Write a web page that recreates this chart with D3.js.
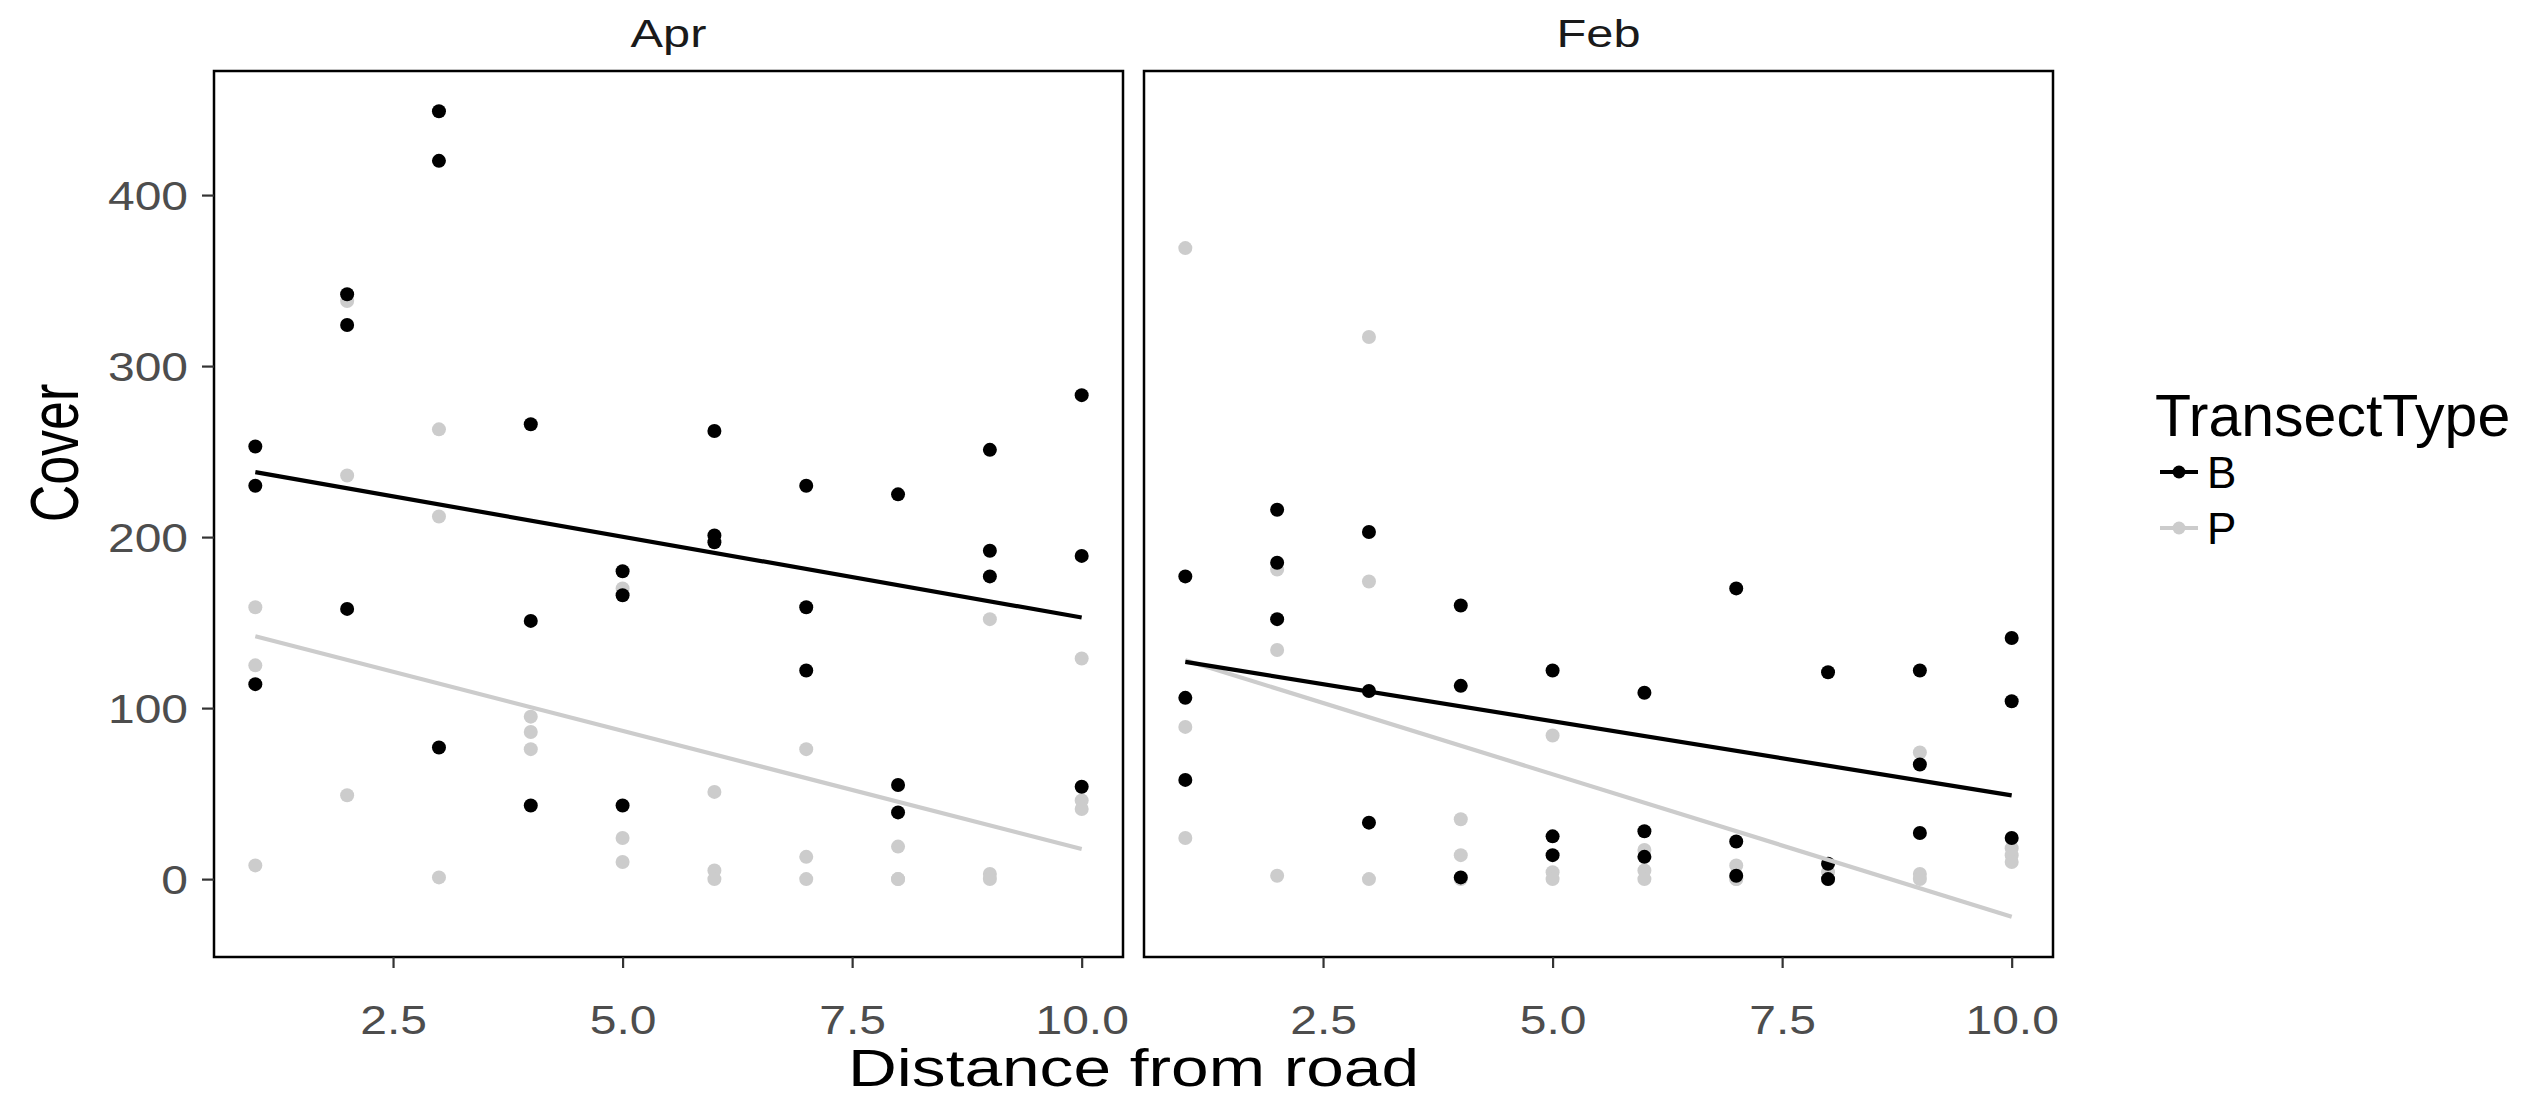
<!DOCTYPE html>
<html>
<head>
<meta charset="utf-8">
<script src="https://cdn.jsdelivr.net/npm/d3@7"></script>
<style>
  body { margin: 0; background: #fff; }
  svg { display: block; }
</style>
</head>
<body>
<div id="chart"></div>
<script>
// panels and groups
const months = ["Apr", "Feb"];
const types = ["B", "P"];
const distances = [1, 2, 3, 4, 5, 6, 7, 8, 9, 10];

// Cover values, three per distance (rows follow distances)
const aprB = [[253, 230, 114], [342, 324, 158], [449, 420, 77], [266, 151, 43], [180, 166, 43],
              [262, 201, 197], [230, 159, 122], [225, 55, 39], [251, 192, 177], [283, 189, 54]];
const aprP = [[159, 125, 8], [338, 236, 49], [263, 212, 1], [95, 86, 76], [170, 24, 10],
              [51, 5, 0], [76, 13, 0], [19, 0, 0], [152, 3, 0], [129, 46, 41]];
const febB = [[177, 106, 58], [216, 185, 152], [203, 110, 33], [160, 113, 1], [122, 25, 14],
              [109, 28, 13], [170, 22, 2], [121, 9, 0], [122, 67, 27], [141, 104, 24]];
const febP = [[369, 89, 24], [181, 134, 2], [317, 174, 0], [35, 14, 0], [84, 4, 0],
              [17, 5, 0], [8, 0, 0], [4, 0, 0], [74, 3, 0], [18, 14, 10]];

// linear fit ends (at distance 1 and 10)
const fitAprB = [238, 153];
const fitAprP = [142, 17.6];
const fitFebB = [127, 49];
const fitFebP = [128, -22];

const xTicks = [2.5, 5, 7.5, 10];
const yTicks = [0, 100, 200, 300, 400];

const colors = { B: "#000000", P: "#cccccc" };
const font = "'Liberation Sans', Arial, sans-serif";

const width = 2531;
const height = 1097;
const margin = { left: 214, top: 71 };
const panelW = 909;
const panelH = 886;
const panelGap = 21;

const panelData = {
    Apr: { B: aprB, P: aprP, fitB: fitAprB, fitP: fitAprP },
    Feb: { B: febB, P: febP, fitB: fitFebB, fitP: fitFebP },
};

const svg = d3.select("#chart")
    .append("svg")
    .attr("width", width)
    .attr("height", height);

// shared y scale, 5% expansion like ggplot
const allY = [aprB, aprP, febB, febP].flat(2)
    .concat(fitAprB, fitAprP, fitFebB, fitFebP);
const yLo = d3.min(allY), yHi = d3.max(allY);
const yPad = (yHi - yLo) * 0.05;
const y = d3.scaleLinear()
    .domain([yLo - yPad, yHi + yPad])
    .range([margin.top + panelH, margin.top]);

const xPad = (d3.max(distances) - d3.min(distances)) * 0.05;

months.forEach((m, i) => {
    const x0 = margin.left + i * (panelW + panelGap);
    const x = d3.scaleLinear()
        .domain([d3.min(distances) - xPad, d3.max(distances) + xPad])
        .range([x0, x0 + panelW]);
    const d = panelData[m];

    const g = svg.append("g");

    // points (P under B)
    ["P", "B"].forEach(t => {
        const pts = [];
        distances.forEach((dist, k) => d[t][k].forEach(v => pts.push({ x: dist, y: v })));
        g.selectAll(null)
            .data(pts)
            .enter().append("circle")
            .attr("cx", p => x(p.x))
            .attr("cy", p => y(p.y))
            .attr("r", 7)
            .attr("fill", colors[t]);
    });

    // fit lines
    const line = d3.line().x(p => x(p[0])).y(p => y(p[1]));
    ["P", "B"].forEach(t => {
        const f = d["fit" + t];
        g.append("path")
            .datum([[d3.min(distances), f[0]], [d3.max(distances), f[1]]])
            .attr("fill", "none")
            .attr("stroke", colors[t])
            .attr("stroke-width", 4.2)
            .attr("d", line);
    });

    // panel border
    svg.append("rect")
        .attr("x", x0)
        .attr("y", margin.top)
        .attr("width", panelW)
        .attr("height", panelH)
        .attr("fill", "none")
        .attr("stroke", "#000")
        .attr("stroke-width", 2.5);

    // strip label
    svg.append("text")
        .attr("transform", `translate(${x0 + panelW / 2}, 47) scale(1.25, 1)`)
        .attr("text-anchor", "middle")
        .attr("font-family", font)
        .attr("font-size", 39)
        .attr("fill", "#1a1a1a")
        .text(m);

    // x axis
    const xAxis = svg.append("g")
        .attr("transform", `translate(0, ${margin.top + panelH})`)
        .call(d3.axisBottom(x).tickValues(xTicks).tickSize(11).tickFormat(d3.format(".1f")));
    xAxis.select(".domain").remove();
    xAxis.selectAll("line").attr("stroke", "#333").attr("stroke-width", 2.2);
    xAxis.selectAll("text")
        .attr("y", 63)
        .attr("dy", "0.35em")
        .attr("transform", "scale(1.2, 1)")
        .attr("font-family", font)
        .attr("font-size", 40)
        .attr("fill", "#4d4d4d");

    // y axis only on the first panel
    if (i === 0) {
        const yAxis = svg.append("g")
            .attr("transform", `translate(${x0}, 0)`)
            .call(d3.axisLeft(y).tickValues(yTicks).tickSize(12));
        yAxis.select(".domain").remove();
        yAxis.selectAll("line").attr("stroke", "#333").attr("stroke-width", 2.2);
        yAxis.selectAll("text")
            .attr("x", -26 / 1.2)
            .attr("dy", "0.35em")
            .attr("transform", "scale(1.2, 1)")
            .attr("font-family", font)
            .attr("font-size", 40)
            .attr("fill", "#4d4d4d");
    }
});

// axis titles
svg.append("text")
    .attr("transform", `translate(${margin.left + panelW + panelGap / 2}, 1086) scale(1.3, 1)`)
    .attr("text-anchor", "middle")
    .attr("font-family", font)
    .attr("font-size", 52)
    .text("Distance from road");

svg.append("text")
    .attr("transform", `translate(78, 453) scale(1.3, 1) rotate(-90)`)
    .attr("text-anchor", "middle")
    .attr("font-family", font)
    .attr("font-size", 52)
    .text("Cover");

// legend
const legend = svg.append("g").attr("transform", "translate(2155, 0)");
legend.append("text")
    .attr("x", 0)
    .attr("y", 436)
    .attr("font-family", font)
    .attr("font-size", 59)
    .text("TransectType");

const keyY = [472, 528];
types.forEach((t, k) => {
    legend.append("line")
        .attr("x1", 5).attr("x2", 43)
        .attr("y1", keyY[k]).attr("y2", keyY[k])
        .attr("stroke", colors[t])
        .attr("stroke-width", 4);
    legend.append("circle")
        .attr("cx", 24).attr("cy", keyY[k])
        .attr("r", 6.5)
        .attr("fill", colors[t]);
    legend.append("text")
        .attr("x", 52)
        .attr("y", keyY[k])
        .attr("dy", "0.36em")
        .attr("font-family", font)
        .attr("font-size", 44)
        .attr("fill", "#000")
        .text(t);
});
</script>
</body>
</html>
